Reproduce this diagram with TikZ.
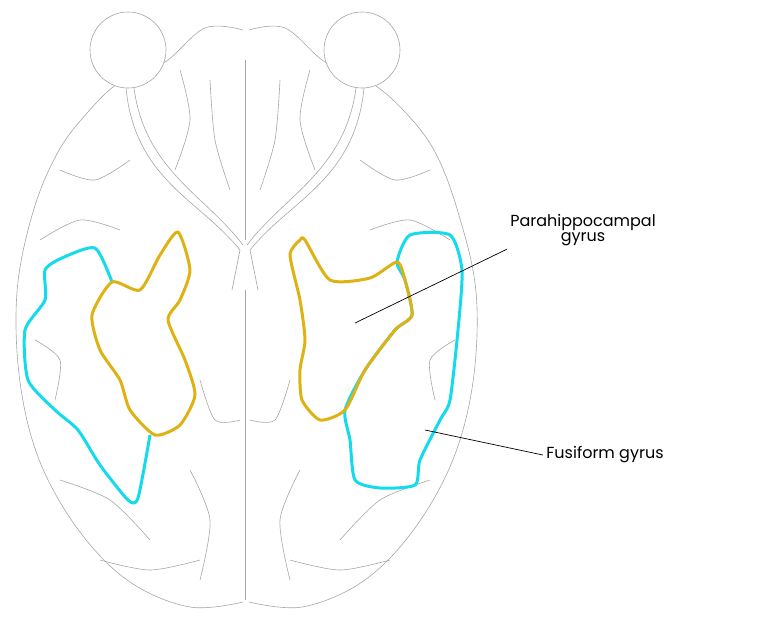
\documentclass[tikz,border=0pt]{standalone}
\usepackage{fontspec}
\setmainfont{Poppins}
\definecolor{gyruscyan}{RGB}{20,218,235}
\definecolor{gyrusyellow}{RGB}{222,178,20}
\begin{document}
\begin{tikzpicture}[x=1pt,y=-1pt,
  brainline/.style={draw=gray!70, line width=0.6pt},
  cyanline/.style={draw=gyruscyan, line width=3pt, line join=round},
  yellowline/.style={draw=gyrusyellow, line width=3pt, line join=round},
  leader/.style={draw=black, line width=0.7pt},
  label/.style={font=\fontsize{16}{18}\selectfont, align=center}]
\useasboundingbox (0,0) rectangle (765,630);

% outline of the two hemispheres
\draw[brainline] plot[smooth, tension=0.6] coordinates {(243,30) (205,28) (165,62) (120,82) (88,112) (58,152) (33,212) (17,292) (20,382) (40,462) (80,532) (130,582) (190,607) (243,602)};
\draw[brainline] plot[smooth, tension=0.6] coordinates {(249,30) (285,28) (325,62) (370,82) (405,112) (435,152) (458,212) (476,292) (473,382) (452,462) (412,532) (362,582) (302,607) (249,602)};

% eyes and optic nerves
\draw[brainline, fill=white] (128,50) circle (38);
\draw[brainline, fill=white] (362,50) circle (38);
\draw[brainline] (126,88) .. controls (135,180) and (200,200) .. (240,250);
\draw[brainline] (134,88) .. controls (145,170) and (205,195) .. (243,245);
\draw[brainline] (364,88) .. controls (355,180) and (290,200) .. (250,250);
\draw[brainline] (356,88) .. controls (345,170) and (285,195) .. (247,245);
\draw[brainline] (240,250) -- (232,290);
\draw[brainline] (250,250) -- (258,290);

% midline and sulci
\draw[brainline] (245,60) -- (245,240);
\draw[brainline] (245,290) -- (245,600);
\foreach \s in {{(180,70) (190,120) (175,170)}, {(210,80) (215,140) (230,190)},
  {(280,80) (275,140) (260,190)}, {(310,70) (300,120) (315,170)},
  {(60,170) (95,180) (130,160)}, {(430,170) (395,180) (360,160)},
  {(40,240) (80,220) (120,230)}, {(450,240) (410,220) (370,230)},
  {(60,480) (110,500) (150,540)}, {(430,480) (380,500) (340,540)},
  {(200,380) (215,420) (240,420)}, {(290,380) (275,420) (250,420)},
  {(190,470) (210,520) (200,580)}, {(300,470) (280,520) (290,580)},
  {(100,560) (150,570) (200,560)}, {(390,560) (340,570) (290,560)},
  {(35,340) (60,360) (55,400)}, {(455,340) (430,360) (435,400)}}
  \draw[brainline] plot[smooth] coordinates \s;

% fusiform gyrus
\draw[cyanline] plot[smooth, tension=0.4] coordinates {(150,435) (138,498) (128,500) (100,465) (78,430) (55,410) (28,380) (25,330) (45,300) (45,270) (62,258) (95,248) (112,282)};
\draw[cyanline] plot[smooth cycle, tension=0.4] coordinates {(397,262) (410,235) (450,235) (462,270) (458,330) (450,400) (440,420) (420,460) (415,485) (380,488) (355,480) (350,440) (345,410) (365,370) (395,330) (412,315) (405,280)};

% parahippocampal gyrus
\draw[yellowline] plot[smooth cycle, tension=0.4] coordinates {(112,282) (140,290) (160,255) (178,232) (190,270) (180,300) (168,320) (185,360) (195,395) (180,425) (155,435) (130,410) (120,380) (100,350) (92,315)};
\draw[yellowline] plot[smooth cycle, tension=0.4] coordinates {(300,240) (290,255) (300,300) (305,340) (300,370) (302,400) (320,420) (345,410) (365,370) (395,330) (412,315) (405,280) (397,262) (370,278) (330,280) (305,240)};

% labels
\node[label] (para) at (583,230) {Parahippocampal\\[-3pt]gyrus};
\node[label] (fusi) at (605,455) {Fusiform gyrus};
\coordinate (paraend) at (355,323);
\coordinate (fusiend) at (425,430);
\draw[leader] (paraend) -- (para.south west);
\draw[leader] (fusiend) -- (fusi.west);
\end{tikzpicture}
\end{document}
